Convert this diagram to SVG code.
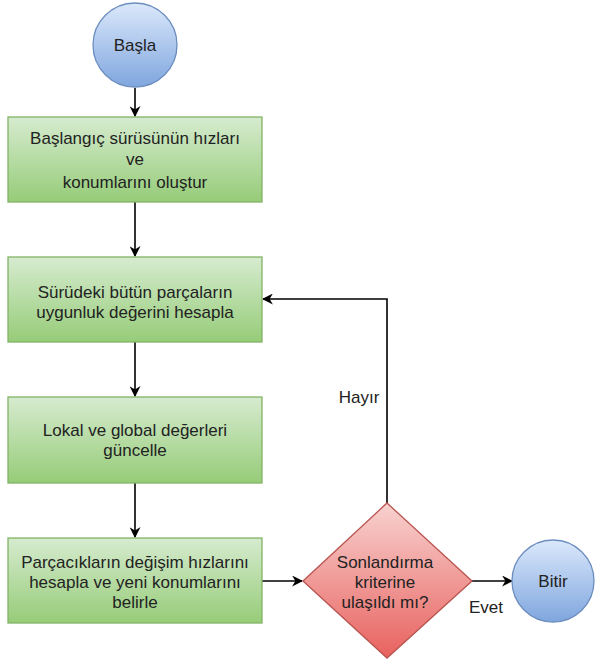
<svg xmlns="http://www.w3.org/2000/svg" width="595" height="662" viewBox="0 0 595 662">
<style>
text{font-family:"Liberation Sans",Arial,sans-serif;font-size:17px;fill:#222;text-anchor:middle}
.box{fill:url(#gGreen);stroke:#82b366;stroke-width:1.3}
.circ{fill:url(#gBlue);stroke:#6c8ebf;stroke-width:1.3}
.dia{fill:url(#gRed);stroke:#b85450;stroke-width:1.3}
.con{fill:none;stroke:#000;stroke-width:1.6;marker-end:url(#arr)}
</style>
<defs>
<linearGradient id="gGreen" x1="0" y1="0" x2="0" y2="1"><stop offset="0" stop-color="#d6ebcf"/><stop offset="1" stop-color="#96cc78"/></linearGradient>
<linearGradient id="gBlue" x1="0" y1="0" x2="0" y2="1"><stop offset="0" stop-color="#dbe8fb"/><stop offset="1" stop-color="#7fa6de"/></linearGradient>
<linearGradient id="gRed" x1="0" y1="0" x2="0" y2="1"><stop offset="0" stop-color="#f8d2d0"/><stop offset="1" stop-color="#e8625f"/></linearGradient>
<marker id="arr" viewBox="0 0 10 10" refX="9" refY="5" markerWidth="11" markerHeight="11" markerUnits="userSpaceOnUse" orient="auto"><path d="M0,0 L10,5 L0,10 L3,5 Z" fill="#000"/></marker>
</defs>
<rect width="595" height="662" fill="#fff"/>
<g id="connectors">
<path class="con" d="M135,88 V116"/>
<path class="con" d="M135,202 V256"/>
<path class="con" d="M135,342 V396"/>
<path class="con" d="M135,483 V537"/>
<path class="con" d="M262,581 H302"/>
<path class="con" d="M472,581 H512"/>
<path class="con" d="M387,503 V299 H263"/>
<text x="359" y="403">Hayır</text>
<text x="486" y="613">Evet</text>
</g>
<g id="start"><circle class="circ" cx="135" cy="45" r="42"/><text x="135" y="51">Başla</text></g>
<g id="init"><rect class="box" x="8" y="117" width="254" height="85"/><text x="135" y="144">Başlangıç sürüsünün hızları</text><text x="135" y="165">ve</text><text x="135" y="188">konumlarını oluştur</text></g>
<g id="fitness"><rect class="box" x="8" y="257" width="254" height="85"/><text x="135" y="298">Sürüdeki bütün parçaların</text><text x="135" y="318">uygunluk değerini hesapla</text></g>
<g id="update"><rect class="box" x="8" y="397" width="254" height="86"/><text x="135" y="436">Lokal ve global değerleri</text><text x="135" y="456">güncelle</text></g>
<g id="velocity"><rect class="box" x="8" y="538" width="254" height="85"/><text x="135" y="568">Parçacıkların değişim hızlarını</text><text x="135" y="588">hesapla ve yeni konumlarını</text><text x="135" y="608">belirle</text></g>
<g id="decision"><polygon class="dia" points="387,503 472,581 387,658 303,581"/><text x="385" y="568">Sonlandırma</text><text x="385" y="588">kriterine</text><text x="385" y="608">ulaşıldı mı?</text></g>
<g id="end"><circle class="circ" cx="553" cy="581" r="41"/><text x="553" y="587">Bitir</text></g>
</svg>
